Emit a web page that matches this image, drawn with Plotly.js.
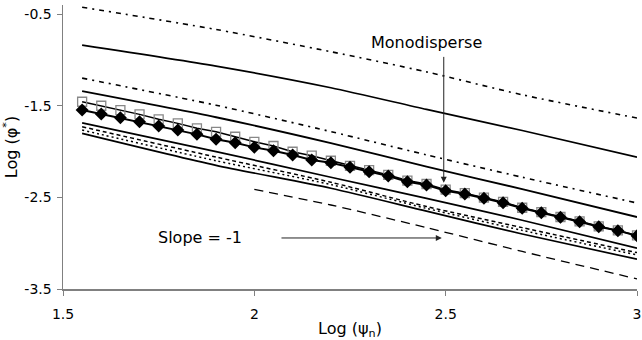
<!DOCTYPE html>
<html>
<head>
<meta charset="utf-8">
<script src="https://cdn.plot.ly/plotly-3.0.1.min.js"></script>
<style>html,body{margin:0;padding:0;background:#fff;}#chart{width:642px;height:340px;}</style>
</head>
<body>
<div id="chart"></div>
<script>
// Sampled x positions for the model curves
const xCurve = [1.55, 1.9, 2.2, 2.45, 2.7, 3.0];
const curveDashDotTop = [-0.424, -0.667, -0.91, -1.13, -1.38, -1.634];
const curveSolidUpper = [-0.838, -1.067, -1.303, -1.54, -1.77, -2.06];
const curveDashDotMid = [-1.198, -1.494, -1.782, -2.036, -2.28, -2.561];
const curveSolidMid = [-1.34, -1.625, -1.907, -2.165, -2.41, -2.714];
const curveBundleTop = [-1.686, -2.0, -2.28, -2.51, -2.75, -3.055];
const curveBundleDash = [-1.729, -2.06, -2.335, -2.6, -2.83, -3.103];
const curveBundleDot = [-1.765, -2.10, -2.36, -2.62, -2.86, -3.128];
const curveBundleBottom = [-1.801, -2.15, -2.40, -2.65, -2.90, -3.175];
const xSlopeLine = [2.0, 2.2, 2.45, 2.7, 3.0];
const slopeLine = [-2.413, -2.583, -2.83, -3.09, -3.39];

// Marker series
const xMarkers = [1.55, 1.60, 1.65, 1.70, 1.75, 1.80, 1.85, 1.90, 1.95, 2.00,
                  2.05, 2.10, 2.15, 2.20, 2.25, 2.30, 2.35, 2.40, 2.45, 2.50,
                  2.55, 2.60, 2.65, 2.70, 2.75, 2.80, 2.85, 2.90, 2.95, 3.00];
const squares = [-1.456, -1.500, -1.547, -1.594, -1.648, -1.692, -1.746, -1.784, -1.838, -1.893,
                 -1.939, -2.002, -2.045, -2.100, -2.155, -2.203, -2.254, -2.316, -2.354, -2.416,
                 -2.454, -2.502, -2.550, -2.613, -2.661, -2.714, -2.761, -2.816, -2.861, -2.915];
const diamonds = [-1.547, -1.591, -1.631, -1.674, -1.721, -1.765, -1.812, -1.866, -1.904, -1.954,
                  -1.991, -2.038, -2.092, -2.122, -2.172, -2.220, -2.267, -2.329, -2.365, -2.427,
                  -2.463, -2.510, -2.558, -2.619, -2.667, -2.717, -2.765, -2.820, -2.863, -2.918];

const xTicks = [1.5, 2, 2.5, 3];
const xTickText = ['1.5', '2', '2.5', '3'];
const yTicks = [-0.5, -1.5, -2.5, -3.5];
const yTickText = ['-0.5', '-1.5', '-2.5', '-3.5'];

function line(x, y, dash, width) {
  return {x: x, y: y, mode: 'lines', type: 'scatter', hoverinfo: 'skip',
          line: {color: '#000', width: width, dash: dash, shape: 'spline', smoothing: 0.7}};
}

const traces = [
  line(xCurve, curveDashDotTop, '5px,5px,2px,5px', 1.6),
  line(xCurve, curveSolidUpper, 'solid', 1.7),
  line(xCurve, curveDashDotMid, '5px,5px,2px,5px', 1.6),
  line(xCurve, curveSolidMid, 'solid', 1.9),
  line(xCurve, curveBundleTop, 'solid', 1.7),
  line(xCurve, curveBundleDash, '4px,3px', 1.5),
  line(xCurve, curveBundleDot, '2px,3px', 1.5),
  line(xCurve, curveBundleBottom, 'solid', 1.7),
  line(xSlopeLine, slopeLine, '9px,6px', 1.3),
  {x: xMarkers, y: squares, mode: 'lines+markers', type: 'scatter',
   line: {color: '#000', width: 1.5},
   marker: {symbol: 'square-open', size: 9, color: '#888', line: {width: 1.3, color: '#888'}}},
  {x: xMarkers, y: diamonds, mode: 'lines+markers', type: 'scatter',
   line: {color: '#000', width: 2},
   marker: {symbol: 'diamond', size: 10, color: '#000'}}
];

const font = {family: 'DejaVu Sans, Arial, sans-serif', color: '#000'};

const layout = {
  width: 642, height: 340,
  margin: {l: 63, r: 5, t: 5, b: 51},
  paper_bgcolor: '#fff', plot_bgcolor: '#fff',
  showlegend: false,
  font: Object.assign({size: 14}, font),
  xaxis: {
    range: [1.5, 3], tickvals: xTicks, ticktext: xTickText,
    showgrid: false, zeroline: false, showline: true, linecolor: '#808080', linewidth: 1.5,
    ticks: 'outside', ticklen: 5, tickcolor: '#808080', ticklabelstandoff: 7,
    tickfont: Object.assign({size: 14}, font),
    title: {text: 'Log (ψ<sub>n</sub>)', font: Object.assign({size: 16}, font), standoff: 2}
  },
  yaxis: {
    range: [-3.5, -0.4], tickvals: yTicks, ticktext: yTickText,
    showgrid: false, zeroline: false, showline: true, linecolor: '#808080', linewidth: 1.5,
    ticks: 'outside', ticklen: 5, tickcolor: '#808080', ticklabelstandoff: 2,
    tickfont: Object.assign({size: 14}, font),
    title: {text: 'Log (φ<sup>*</sup>)', font: Object.assign({size: 16}, font), standoff: 4}
  },
  annotations: [
    {x: 2.45, y: -0.805, xref: 'x', yref: 'y', text: 'Monodisperse', showarrow: false,
     font: Object.assign({size: 16}, font)},
    {x: 2.495, y: -2.34, ax: 2.495, ay: -0.95, xref: 'x', yref: 'y', axref: 'x', ayref: 'y',
     text: '', showarrow: true, arrowhead: 2, arrowsize: 1.2, arrowwidth: 1, arrowcolor: '#222'},
    {x: 1.859, y: -2.943, xref: 'x', yref: 'y', text: 'Slope = -1', showarrow: false,
     font: Object.assign({size: 16}, font)},
    {x: 2.49, y: -2.943, ax: 2.067, ay: -2.943, xref: 'x', yref: 'y', axref: 'x', ayref: 'y',
     text: '', showarrow: true, arrowhead: 2, arrowsize: 1.2, arrowwidth: 1, arrowcolor: '#222'}
  ]
};

Plotly.newPlot('chart', traces, layout, {staticPlot: true, displayModeBar: false});
</script>
</body>
</html>
